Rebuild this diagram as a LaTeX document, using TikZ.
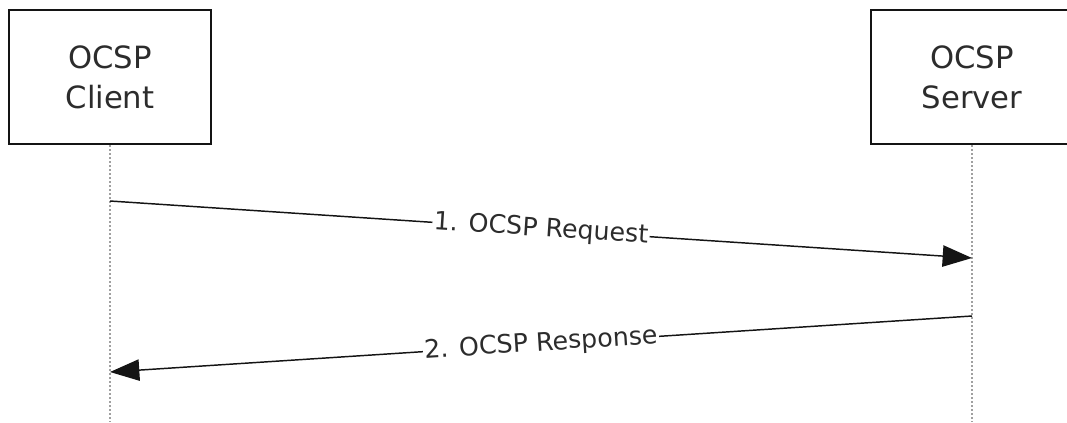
\documentclass[tikz,border=0pt]{standalone}
\usepackage{fontspec}
\setmainfont{DejaVu Sans}
\usetikzlibrary{arrows.meta}
\definecolor{ink}{RGB}{20,20,20}
\definecolor{dots}{RGB}{160,160,160}
\tikzstyle{party} = [rectangle, minimum width=151pt, minimum height=101pt, text centered, align=center, draw=ink, line width=1.5pt, fill=white, font=\fontsize{23}{30}\selectfont, text=ink!90]
\tikzstyle{lifeline} = [draw=dots, line width=2pt, dash pattern=on 1.5pt off 1.5pt]
\tikzstyle{arrow} = [draw=ink, line width=1.1pt, -{Triangle[length=22pt,width=16pt]}]
\tikzstyle{msg} = [fill=white, sloped, inner sep=1pt, font=\fontsize{19}{22}\selectfont, text=ink!90]

\begin{document}
\begin{tikzpicture}[x=0.75pt,y=-0.75pt]
        \useasboundingbox (0,0) rectangle (1067,422);
        \begin{scope}
        \clip (0,0) rectangle (1067,422);
        \node (node0) [party] at (110,77) {OCSP\\Client};
        \node (node1) [party] at (972,77) {OCSP\\Server};
        \end{scope}

        \coordinate (end0) at (110,422);
        \coordinate (end1) at (972,422);
        \draw [lifeline] (node0.south) -- (end0);
        \draw [lifeline] (node1.south) -- (end1);

        \coordinate (req0) at (110,201);
        \coordinate (req1) at (972,258);
        \coordinate (resp0) at (972,316);
        \coordinate (resp1) at (110,372);

        \draw [arrow] (req0) --node[msg] {1. OCSP Request} (req1);
        \draw [arrow] (resp0) --node[msg] {2. OCSP Response} (resp1);
    \end{tikzpicture}
\end{document}
